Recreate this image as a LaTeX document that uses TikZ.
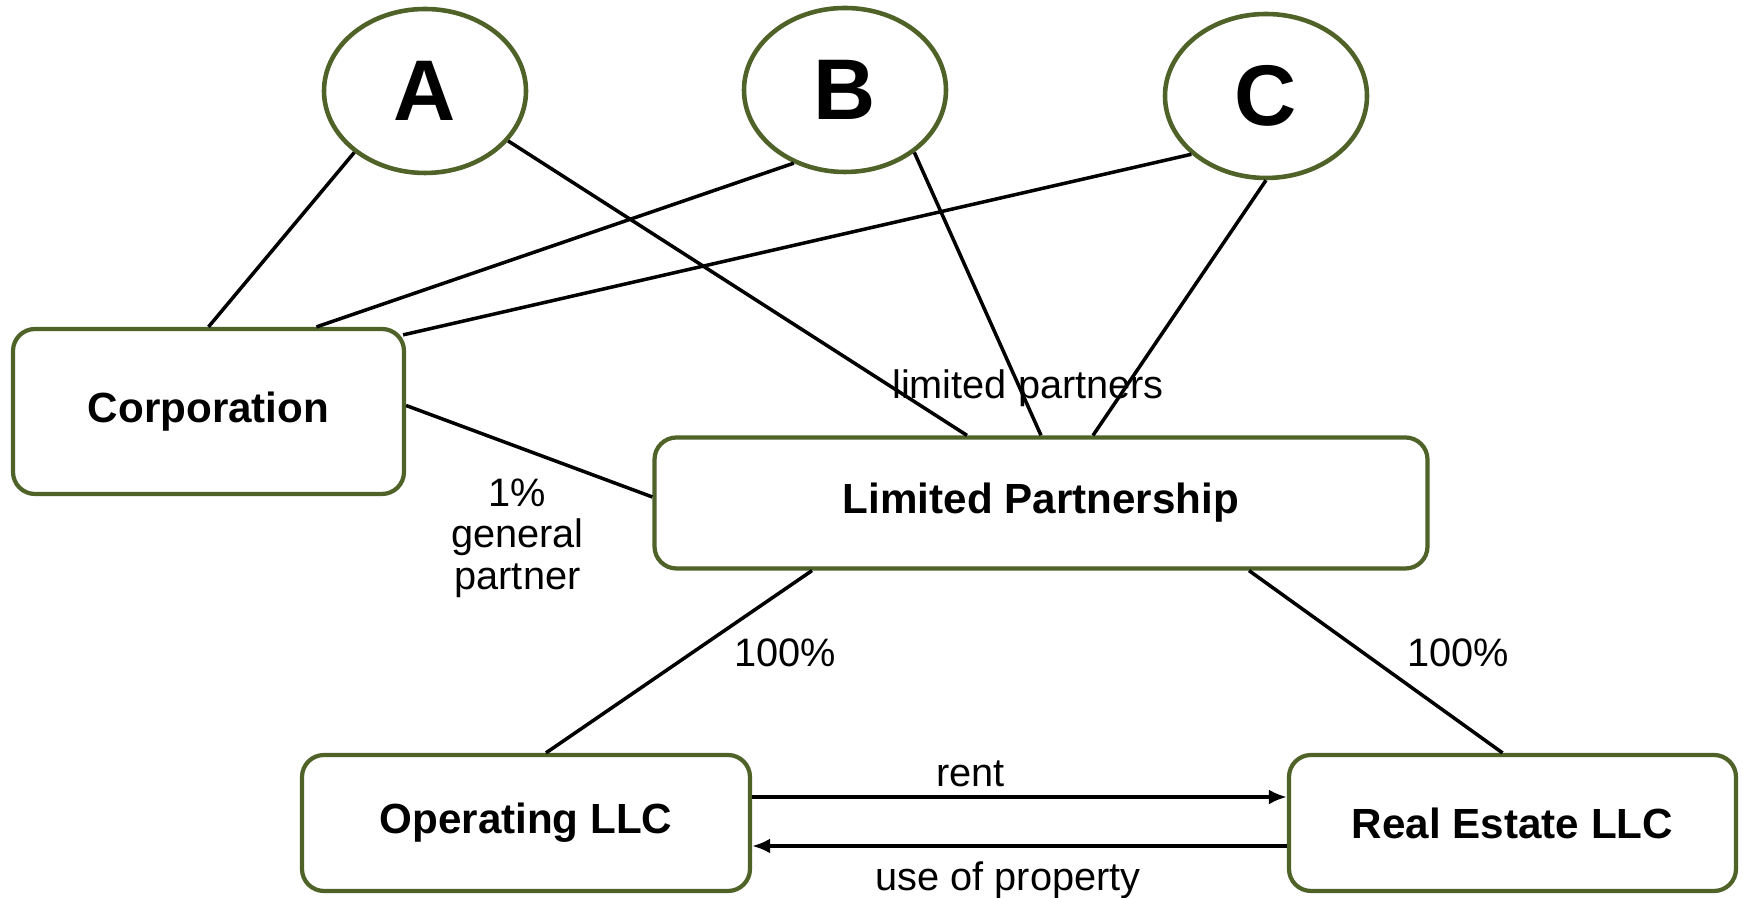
\documentclass[tikz,border=0pt]{standalone}
\usepackage{fontspec}
\setmainfont{Liberation Sans}
\usepackage{xcolor}
\usepackage{tikz}
\usetikzlibrary{arrows.meta,positioning,shapes}

\definecolor{boxgreen}{RGB}{79,98,40}

\tikzset{
  owner/.style={ellipse, draw=boxgreen, line width=1.3pt, fill=white,
    minimum width=2.02cm, minimum height=1.64cm, inner sep=0pt,
    font=\fontsize{24.5}{29}\selectfont\bfseries},
  entity/.style={rectangle, rounded corners=0.22cm, draw=boxgreen, line width=1.2pt,
    fill=white, inner sep=0pt, font=\fontsize{12}{14}\selectfont\bfseries},
  link/.style={black, line width=1pt},
  flow/.style={link, -{Latex[length=1.8mm,width=1.5mm]}},
  note/.style={font=\fontsize{11.3}{11.8}\selectfont, align=center, inner sep=0pt}
}

\begin{document}
\begin{tikzpicture}
    \useasboundingbox (0,0) rectangle (17.43,8.98);

    % Owners
    \node[owner] (A) at (4.25,8.07) {A};
    \node[owner] (B) at (8.45,8.08) {B};
    \node[owner] (C) at (12.66,8.02) {C};

    % Entities
    \node[entity, minimum width=3.91cm, minimum height=1.65cm] (corp) at (2.085,4.865) {Corporation};
    \node[entity, minimum width=7.73cm, minimum height=1.31cm] (lp) at (10.41,3.95) {Limited Partnership};
    \node[entity, minimum width=4.48cm, minimum height=1.36cm] (oper) at (5.26,0.75) {Operating LLC};
    \node[entity, minimum width=4.47cm, minimum height=1.36cm] (realty) at (15.125,0.75) {Real Estate LLC};

    % Labels
    \node[note] (lpnote) at (10.28,5.10) {limited partners};
    \node[note] (gpnote) at (5.175,3.60) {1\%\\general\\partner};
    \node[note] (opshare) at (7.85,2.45) {100\%};
    \node[note] (reshare) at (14.58,2.45) {100\%};
    \node[note] (rentnote) at (9.705,1.24) {rent};
    \node[note, anchor=base] (usenote) at (10.08,0.07) {use of property};

    % Shareholders of the corporation
    \draw[link] (A.221) -- (corp.north);
    \draw[link] (B.235) -- ([xshift=1.08cm]corp.north);
    \draw[link] (C.218) -- ([shift={(-0.03,-0.08)}]corp.north east);

    % Limited partners
    \draw[link] (A.329) -- ([xshift=-0.74cm]lp.north);
    \draw[link] (B.318) -- (lp.north);
    \draw[link] (C.south) -- ([xshift=0.52cm]lp.north);

    % General partner
    \draw[link] ([yshift=0.06cm]corp.east) -- ([yshift=0.06cm]lp.west);

    % Subsidiaries
    \draw[link] ([xshift=-2.29cm]lp.south) -- ([xshift=0.20cm]oper.north);
    \draw[link] ([xshift=2.08cm]lp.south) -- ([xshift=-0.10cm]realty.north);

    % Lease
    \draw[flow] ([yshift=0.26cm]oper.east) -- ([yshift=0.26cm]realty.west);
    \draw[flow] ([yshift=-0.23cm]realty.west) -- ([yshift=-0.23cm]oper.east);
\end{tikzpicture}
\end{document}
